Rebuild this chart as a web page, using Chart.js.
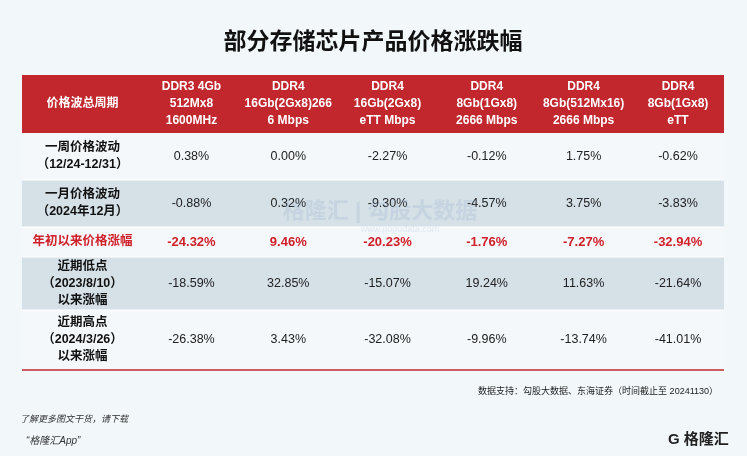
<!DOCTYPE html>
<html><head><meta charset="utf-8">
<script src="https://cdn.jsdelivr.net/npm/chart.js@4"></script>
<style>html,body{margin:0;padding:0;background:#f2f7fa;}#c{display:block}</style>
</head><body><canvas id="c" width="747" height="456"></canvas>
<script>
const title = "部分存储芯片产品价格涨跌幅";
const headerLabel = "价格波总周期";
const products = [
  ["DDR3 4Gb","512Mx8","1600MHz"],
  ["DDR4","16Gb(2Gx8)266","6 Mbps"],
  ["DDR4","16Gb(2Gx8)","eTT Mbps"],
  ["DDR4","8Gb(1Gx8)","2666 Mbps"],
  ["DDR4","8Gb(512Mx16)","2666 Mbps"],
  ["DDR4","8Gb(1Gx8)","eTT"]
];
const periods = [
  ["一周价格波动","（12/24-12/31）"],
  ["一月价格波动","（2024年12月）"],
  ["年初以来价格涨幅"],
  ["近期低点","（2023/8/10）","以来涨幅"],
  ["近期高点","（2024/3/26）","以来涨幅"]
];
const weekChange   = [0.38, 0.00, -2.27, -0.12, 1.75, -0.62];
const monthChange  = [-0.88, 0.32, -9.30, -4.57, 3.75, -3.83];
const ytdChange    = [-24.32, 9.46, -20.23, -1.76, -7.27, -32.94];
const fromLow      = [-18.59, 32.85, -15.07, 19.24, 11.63, -21.64];
const fromHigh     = [-26.38, 3.43, -32.08, -9.96, -13.74, -41.01];
const rows = [weekChange, monthChange, ytdChange, fromLow, fromHigh];
const source = "数据支持：勾股大数据、东海证券（时间截止至 20241130）";

// layout (not data)
const colW = [1.25,1,1,1.05,1,1,0.95];
const rowH = [58,47,47,30,53,60];
const colEdges=[0]; colW.forEach(w=>colEdges.push(colEdges[colEdges.length-1]+w));
const rowEdges=[0]; rowH.forEach(h=>rowEdges.push(rowEdges[rowEdges.length-1]+h));
const pts=[];
rows.forEach((r,ri)=>r.forEach((v,ci)=>pts.push({x:(colEdges[ci+1]+colEdges[ci+2])/2,y:(rowEdges[ri+1]+rowEdges[ri+2])/2,v})));

const FONT='"Liberation Sans","Noto Sans CJK SC",sans-serif';
const tablePlugin={id:'tbl',beforeDatasetsDraw(ch){
  const c=ch.ctx,x=ch.scales.x,y=ch.scales.y;
  const X=v=>x.getPixelForValue(v),Y=v=>y.getPixelForValue(v);
  const L=X(0),R=X(colEdges[7]);
  c.save();
  c.fillStyle='#111';c.font='bold 23px "Noto Sans CJK SC",sans-serif';c.textAlign='center';c.textBaseline='middle';
  c.fillText(title,373,40);
  c.fillStyle='#c1272d';c.fillRect(L,Y(0),R-L,Y(rowEdges[1])-Y(0));
  const bgs=['#f4f8fb','#d5e0e7','#f4f8fb','#d5e0e7','#f4f8fb'];
  for(let r=0;r<5;r++){c.fillStyle=bgs[r];c.fillRect(L,Y(rowEdges[r+1]),R-L,Y(rowEdges[r+2])-Y(rowEdges[r+1]));}
  c.strokeStyle='#c1272d';c.lineWidth=1.5;
  c.beginPath();c.moveTo(L,Y(rowEdges[6]));c.lineTo(R,Y(rowEdges[6]));c.stroke();
  c.strokeStyle='#ffffff';c.lineWidth=1;
  for(let r=2;r<6;r++){c.beginPath();c.moveTo(L,Y(rowEdges[r]));c.lineTo(R,Y(rowEdges[r]));c.stroke();}
  const lines=(arr,cx,cy,lh)=>arr.forEach((t,i)=>c.fillText(t,cx,cy+(i-(arr.length-1)/2)*lh));
  const hy=(Y(0)+Y(rowEdges[1]))/2;
  c.fillStyle='#fff';c.font='bold 12px '+FONT;
  c.fillText(headerLabel,X(colW[0]/2),hy);
  products.forEach((p,i)=>lines(p,X((colEdges[i+1]+colEdges[i+2])/2),hy,17));
  periods.forEach((p,r)=>{
    const cy=(Y(rowEdges[r+1])+Y(rowEdges[r+2]))/2;
    c.fillStyle=r===2?'#d0202a':'#111';c.font='bold 12.5px '+FONT;
    lines(p,X(colW[0]/2),cy,17);
  });
  pts.forEach((p,i)=>{
    const red=Math.floor(i/6)===2;
    c.fillStyle=red?'#d0202a':'#222';c.font=(red?'bold 13px ':'12.5px ')+FONT;
    c.fillText(p.v.toFixed(2)+'%',X(p.x),Y(p.y));
  });
  c.globalAlpha=0.18;c.fillStyle='#7f9fc0';c.font='bold 22px '+FONT;
  c.fillText('格隆汇 | 勾股大数据',380,212);c.font='9px '+FONT;c.fillText('www.gogudata.com',400,230);
  c.globalAlpha=1;
  c.fillStyle='#222';c.font='9px '+FONT;c.textAlign='right';c.fillText(source,718,392);
  c.textAlign='left';c.font='italic 9px '+FONT;c.fillStyle='#333';
  c.fillText('了解更多图文干货，请下载',20,419);c.font='italic 10px '+FONT;c.fillText('“格隆汇App”',26,441);
  c.fillStyle='#222';c.font='bold 15px '+FONT;c.fillText('G 格隆汇',668,440);
  c.restore();
}};
new Chart(document.getElementById('c'),{
  type:'scatter',
  data:{datasets:[{data:pts,pointRadius:0,pointHoverRadius:0}]},
  options:{responsive:false,animation:false,events:[],
    layout:{padding:{left:22,right:23,top:75,bottom:86}},
    plugins:{legend:{display:false},tooltip:{enabled:false}},
    scales:{x:{type:'linear',display:false,min:0,max:colEdges[7]},
            y:{type:'linear',display:false,reverse:true,min:0,max:rowEdges[6]}}},
  plugins:[tablePlugin]
});
</script></body></html>
